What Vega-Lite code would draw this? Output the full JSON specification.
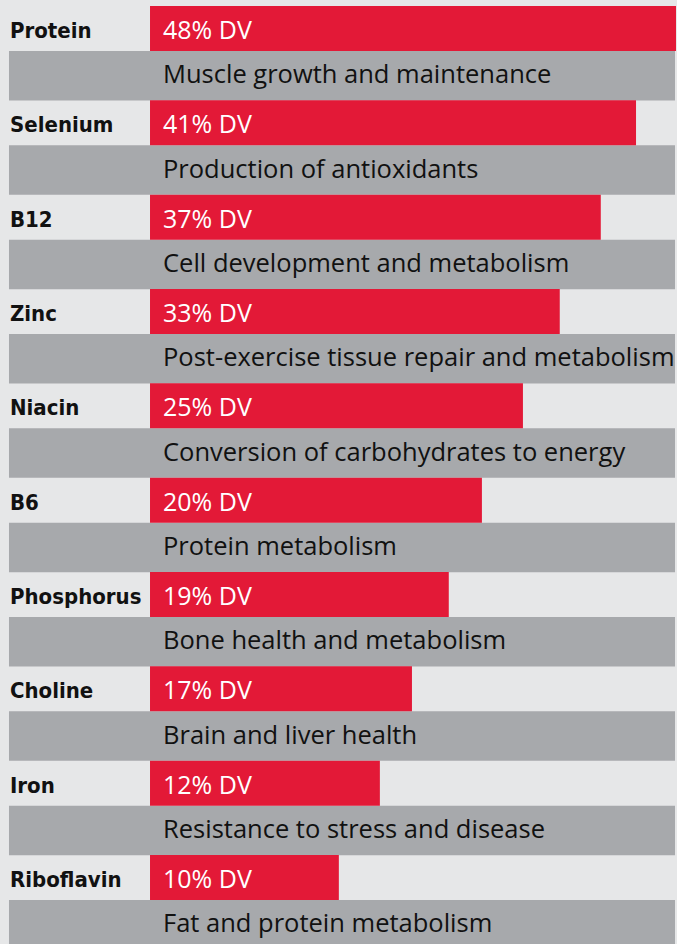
{
  "$schema": "https://vega.github.io/schema/vega-lite/v6.json",
  "width": 677,
  "height": 944,
  "padding": 0,
  "autosize": {"type": "none"},
  "background": "#e6e7e8",
  "config": {"view": {"stroke": null}},
  "data": {
    "values": [
      {"nutrient": "Protein", "dv": "48% DV", "len": 100.0, "role": "Muscle growth and maintenance"},
      {"nutrient": "Selenium", "dv": "41% DV", "len": 92.4, "role": "Production of antioxidants"},
      {"nutrient": "B12", "dv": "37% DV", "len": 85.7, "role": "Cell development and metabolism"},
      {"nutrient": "Zinc", "dv": "33% DV", "len": 77.9, "role": "Post-exercise tissue repair and metabolism"},
      {"nutrient": "Niacin", "dv": "25% DV", "len": 70.9, "role": "Conversion of carbohydrates to energy"},
      {"nutrient": "B6", "dv": "20% DV", "len": 63.1, "role": "Protein metabolism"},
      {"nutrient": "Phosphorus", "dv": "19% DV", "len": 56.8, "role": "Bone health and metabolism"},
      {"nutrient": "Choline", "dv": "17% DV", "len": 49.8, "role": "Brain and liver health"},
      {"nutrient": "Iron", "dv": "12% DV", "len": 43.7, "role": "Resistance to stress and disease"},
      {"nutrient": "Riboflavin", "dv": "10% DV", "len": 35.9, "role": "Fat and protein metabolism"}
    ]
  },
  "layer": [
    {
      "mark": {"type": "bar", "height": 49.5, "yOffset": 22.58, "color": "#a7a9ac"},
      "encoding": {
        "y": {"field": "nutrient", "type": "nominal", "sort": null, "axis": null, "scale": {"range": [6, 949.33], "paddingInner": 0, "paddingOuter": 0}},
        "x": {"datum": -26.81, "type": "quantitative", "stack": null, "scale": {"domain": [-28.52, 100.19], "nice": false, "zero": false}, "axis": null},
        "x2": {"datum": 99.81}
      }
    },
    {
      "mark": {"type": "bar", "height": 45, "yOffset": -24.67, "color": "#e31937"},
      "encoding": {
        "y": {"field": "nutrient", "type": "nominal", "sort": null, "axis": null},
        "x": {"field": "len", "type": "quantitative", "stack": null, "axis": null},
        "x2": {"datum": 0}
      }
    },
    {
      "mark": {"type": "text", "align": "left", "baseline": "alphabetic", "yOffset": -15.17, "font": "'DejaVu Sans Condensed', 'Liberation Sans Narrow', Roboto, sans-serif", "fontWeight": "bold", "fontSize": 22, "color": "#111111"},
      "encoding": {
        "y": {"field": "nutrient", "type": "nominal", "sort": null, "axis": null},
        "x": {"datum": -26.62, "type": "quantitative", "axis": null},
        "text": {"field": "nutrient"}
      }
    },
    {
      "mark": {"type": "text", "align": "left", "baseline": "alphabetic", "yOffset": -14.17, "font": "Open Sans", "fontSize": 25, "color": "#ffffff"},
      "encoding": {
        "y": {"field": "nutrient", "type": "nominal", "sort": null, "axis": null},
        "x": {"datum": 2.47, "type": "quantitative", "axis": null},
        "text": {"field": "dv"}
      }
    },
    {
      "mark": {"type": "text", "align": "left", "baseline": "alphabetic", "yOffset": 30.17, "font": "Open Sans", "fontSize": 25.5, "color": "#111111"},
      "encoding": {
        "y": {"field": "nutrient", "type": "nominal", "sort": null, "axis": null},
        "x": {"datum": 2.47, "type": "quantitative", "axis": null},
        "text": {"field": "role"}
      }
    }
  ]
}
